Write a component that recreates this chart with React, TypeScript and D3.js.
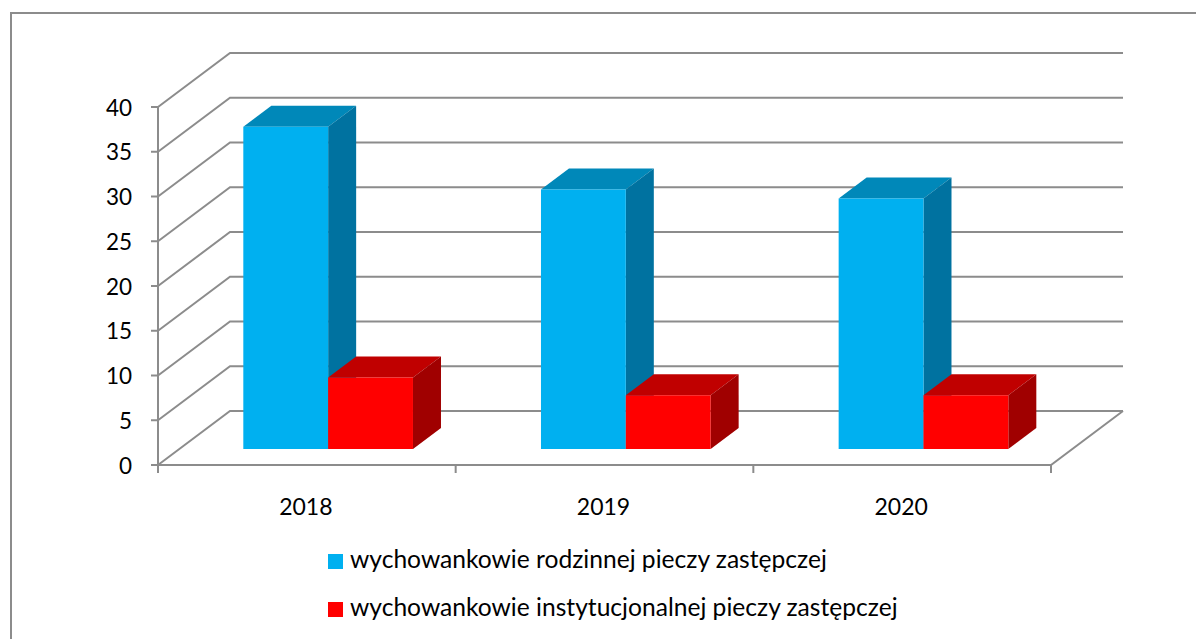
import React from 'react';
import * as d3 from 'd3';

const years = ['2018', '2019', '2020'];
const seriesNames = [
  'wychowankowie rodzinnej pieczy zastępczej',
  'wychowankowie instytucjonalnej pieczy zastępczej',
];
const rodzinna = [36, 29, 28];
const instytucjonalna = [8, 6, 6];
const yTicks = [0, 5, 10, 15, 20, 25, 30, 35, 40];

// front, top, side
const blues = ['#00B0F0', '#0088B9', '#0072A0'];
const reds = ['#FF0000', '#C00000', '#A00000'];

const GRID = '#8c8c8c';
const FONT = 'Lato, Carlito, sans-serif';

const width = 1196;
const height = 639;

const x0 = d3.scaleBand<string>().domain(years).range([158, 1051]);
const gapShare = 128 / 297.67;
const x1 = d3
  .scaleBand<number>()
  .domain([0, 1])
  .range([(x0.bandwidth() * gapShare) / 2, x0.bandwidth() * (1 - gapShare / 2)]);
const y = d3.scaleLinear().domain([0, 40]).range([465, 107]);

// depth of the 3d box: z goes from the front edge (0) to the back wall (1)
const zx = d3.scaleLinear().domain([0, 1]).range([0, 72]);
const zy = d3.scaleLinear().domain([0, 1]).range([0, -54]);
const zFront = 0.296;
const zBack = 0.685;

const pt = (x: number, v: number, z: number): [number, number] => [x + zx(z), y(v) + zy(z)];
const line = d3.line();
const poly = (pts: [number, number][]) => line(pts) + 'Z';

const Bar = ({ left, w, v, colors }: { left: number; w: number; v: number; colors: string[] }) => {
  const r = left + w;
  return (
    <g>
      <path d={poly([pt(left, v, zFront), pt(left, v, zBack), pt(r, v, zBack), pt(r, v, zFront)])} fill={colors[1]} />
      <path d={poly([pt(r, 0, zFront), pt(r, v, zFront), pt(r, v, zBack), pt(r, 0, zBack)])} fill={colors[2]} />
      <path d={poly([pt(left, 0, zFront), pt(left, v, zFront), pt(r, v, zFront), pt(r, 0, zFront)])} fill={colors[0]} />
    </g>
  );
};

export default function App() {
  const [xStart, xEnd] = x0.range();
  const xTicks = [...years.map(d => x0(d) as number), xEnd];
  return (
    <svg
      width={width}
      height={height}
      style={{ position: 'fixed', left: 0, top: 0, background: '#fff' }}
      fontFamily={FONT}
    >
      <path d={`M11,${height}V13H${width}`} fill="none" stroke={GRID} strokeWidth={2} />

      {/* walls and floor */}
      {yTicks.map(t => (
        <path
          key={t}
          d={line([pt(xStart, t, 0), pt(xStart, t, 1), pt(xEnd, t, 1)]) as string}
          fill="none"
          stroke={GRID}
          strokeWidth={2}
        />
      ))}
      <path d={line([pt(xStart, 0, 0), pt(xEnd, 0, 0), pt(xEnd, 0, 1)]) as string} fill="none" stroke={GRID} strokeWidth={2} />
      <line x1={xStart} x2={xStart} y1={y(0)} y2={y(40)} stroke={GRID} strokeWidth={2} />

      {/* axis ticks and labels */}
      {yTicks.map(t => (
        <g key={t}>
          <line x1={xStart - 7} x2={xStart} y1={y(t)} y2={y(t)} stroke={GRID} strokeWidth={2} />
          <text x={132} y={y(t) + 8.5} textAnchor="end" fontSize={22.5} fill="#000">
            {t}
          </text>
        </g>
      ))}
      {xTicks.map(t => (
        <line key={t} x1={t} x2={t} y1={y(0)} y2={y(0) + 8} stroke={GRID} strokeWidth={2} />
      ))}
      {years.map(d => (
        <text
          key={d}
          x={(x0(d) as number) + x0.bandwidth() / 2 - 1}
          y={515}
          textAnchor="middle"
          fontSize={23}
          fill="#000"
        >
          {d}
        </text>
      ))}

      {/* bars */}
      {years.map((d, i) => (
        <g key={d}>
          <Bar left={(x0(d) as number) + (x1(0) as number)} w={x1.bandwidth()} v={rodzinna[i]} colors={blues} />
          <Bar left={(x0(d) as number) + (x1(1) as number)} w={x1.bandwidth()} v={instytucjonalna[i]} colors={reds} />
        </g>
      ))}

      {/* legend */}
      {seriesNames.map((name, i) => (
        <g key={name} transform={`translate(328,${554 + i * 48})`}>
          <rect width={15} height={15} fill={i === 0 ? blues[0] : reds[0]} />
          <text x={22} y={14} fontSize={24.6} fill="#000">
            {name}
          </text>
        </g>
      ))}
    </svg>
  );
}
